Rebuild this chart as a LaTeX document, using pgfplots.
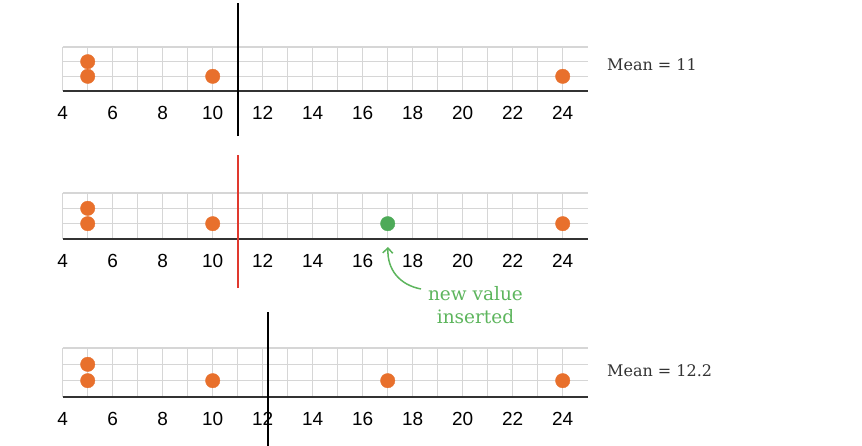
\documentclass[border=0pt]{standalone}
\usepackage{fontspec}
\usepackage{pgfplots}
\pgfplotsset{compat=1.18}
\usetikzlibrary{arrows.meta}
\setmainfont{DejaVu Serif}
\newfontfamily\sansnum{Liberation Sans}
\definecolor{dotorange}{HTML}{E8702C}
\definecolor{dotgreen}{HTML}{4DAA58}
\definecolor{annogreen}{HTML}{5DB55D}
\definecolor{meanred}{HTML}{E0392E}
\definecolor{gridgray}{HTML}{D6D6D6}
\definecolor{txtgray}{HTML}{333333}
\pgfplotsset{
 dotaxis/.style={
  scale only axis, width=525pt, xmin=4, xmax=25, ymin=0, ymax=3,
  anchor=south west, clip=false,
  axis line style={draw=none},
  xtick={4,6,...,24}, minor xtick={5,7,...,23},
  ytick={1,2,3}, yticklabels={,,},
  major tick length=0pt, minor tick length=0pt,
  grid=both, major grid style={gridgray, line width=1.1pt}, minor grid style={gridgray, line width=1.1pt},
  /pgf/number format/assume math mode=true,
  xticklabel style={font=\sansnum\fontsize{19}{19}\selectfont, text=black, anchor=base, yshift=-28.3pt},
 },
 orangedots/.style={only marks, mark=*, mark size=7.2pt, color=dotorange, mark options={draw=none, fill=dotorange}},
 greendots/.style={only marks, mark=*, mark size=7.2pt, color=dotgreen, mark options={draw=none, fill=dotgreen}},
 baseline/.style={color=txtgray, line width=1.6pt, no marks},
}
\begin{document}
\begin{tikzpicture}
\useasboundingbox (0,0) rectangle (862pt,445pt);
% Panel 1
\begin{axis}[dotaxis, height=44pt, at={(62.7pt,354pt)}]
\addplot[baseline] coordinates {(4,0) (25,0)};
\addplot[orangedots] coordinates {(5,1) (5,2) (10,1) (24,1)};
\addplot[color=black, line width=1.8pt, no marks] coordinates {(11,-3.07) (11,6.0)};
\end{axis}
% Panel 2
\begin{axis}[dotaxis, height=46pt, at={(62.7pt,206pt)}, xticklabel style={yshift=-0.5pt}]
\addplot[baseline] coordinates {(4,0) (25,0)};
\addplot[orangedots] coordinates {(5,1) (5,2) (10,1) (24,1)};
\addplot[greendots] coordinates {(17,1)};
\addplot[color=meanred, line width=1.6pt, no marks] coordinates {(11,-3.2) (11,5.48)};
\end{axis}
% Panel 3
\begin{axis}[dotaxis, height=49pt, at={(62.7pt,48pt)}]
\addplot[baseline] coordinates {(4,0) (25,0)};
\addplot[orangedots] coordinates {(5,1) (5,2) (10,1) (17,1) (24,1)};
\addplot[color=black, line width=1.8pt, no marks] coordinates {(12.2,-3.0) (12.2,5.2)};
\end{axis}
% Labels
\node[anchor=west, text=txtgray, font=\fontsize{16}{16}\selectfont, inner sep=0pt] at (607pt,380pt) {Mean = 11};
\node[anchor=west, text=txtgray, font=\fontsize{16}{16}\selectfont, inner sep=0pt] at (607pt,74pt) {Mean = 12.2};
\node[text=annogreen, font=\fontsize{18.5}{23}\selectfont, align=center, inner sep=0pt] at (475.5pt,139.5pt) {new value\\inserted};
\draw[annogreen, line width=1.5pt, {Straight Barb[length=5pt,width=10pt]}-] (388pt,198pt) .. controls (387pt,175pt) and (400pt,160pt) .. (421pt,156pt);
\end{tikzpicture}
\end{document}
